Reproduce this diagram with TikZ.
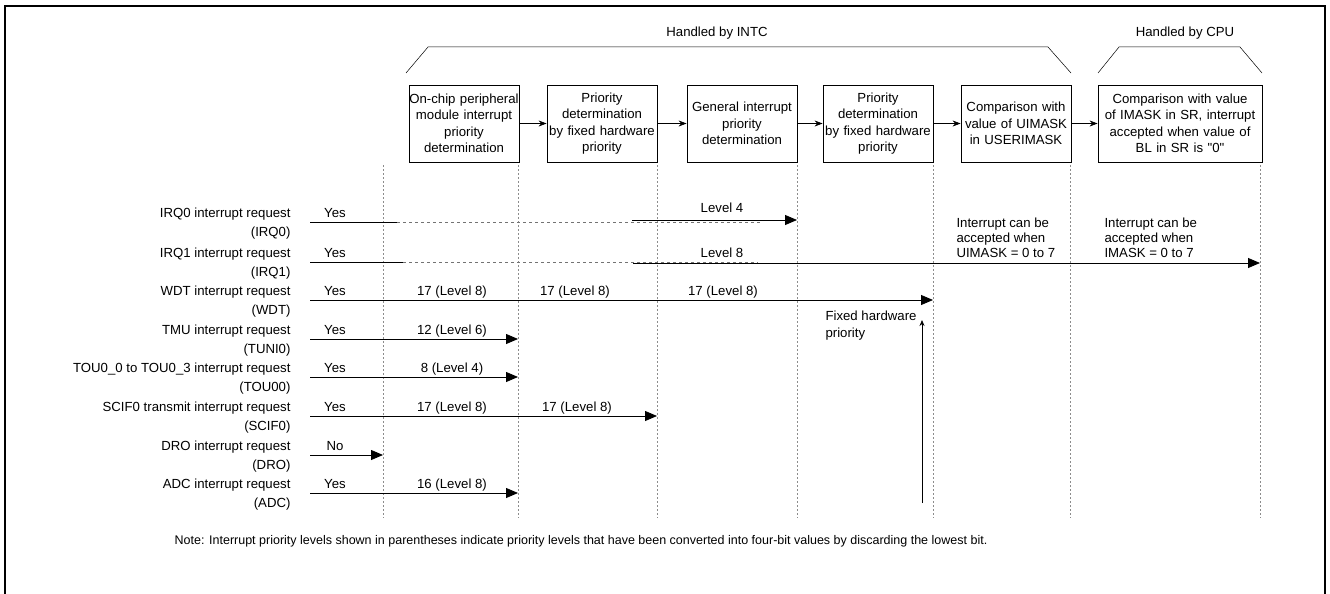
\documentclass[tikz,border=0pt]{standalone}
\usepackage{fontspec}
\setmainfont{Liberation Sans}[Ligatures=TeXOff]
\usetikzlibrary{arrows.meta}

\begin{document}
\begin{tikzpicture}[x=1pt,y=-1pt,
    font=\fontsize{13.2}{16.5}\selectfont, >={Triangle[length=12pt,width=10pt]},
    stage/.style={rectangle,draw=black,line width=0.8pt,minimum width=110pt,
                  minimum height=77pt,inner sep=0pt,align=center,text width=110pt},
    col/.style={black!45,line width=0.7pt,dash pattern=on 1.5pt off 2.5pt},
    req/.style={->,line width=0.8pt},
    link/.style={-{Stealth[length=8pt,width=6pt]},line width=0.8pt},
    gap/.style={black!55,line width=0.6pt,dash pattern=on 3pt off 3pt},
    src/.style={anchor=east,align=right,font=\fontsize{13.2}{19.5}\selectfont},
    lvl/.style={anchor=base},
    bracket/.style={line width=0.5pt}]

  \useasboundingbox (0,0) rectangle (1330,594);
  \draw[line width=2.8pt] (5,594) -- (5,6) -- (1325,6) -- (1325,594);

  % processing stages
  \node[stage] (chip) at (464,123.5) {On-chip peripheral\\module interrupt\\priority\\determination};
  \node[stage] (fix1) at (602,123.5) {Priority\\determination\\by fixed hardware\\priority};
  \node[stage] (gen)  at (742,123.5) {General interrupt\\priority\\determination};
  \node[stage] (fix2) at (878,123.5) {Priority\\determination\\by fixed hardware\\priority};
  \node[stage] (uim)  at (1016,123.5) {Comparison with\\value of UIMASK\\in USERIMASK};
  \node[stage,minimum width=164pt,text width=164pt] (imask) at (1180,123.5)
       {Comparison with value\\of IMASK in SR, interrupt\\accepted when value of\\BL in SR is "0"};

  \draw[link] (chip) -- (fix1);
  \draw[link] (fix1) -- (gen);
  \draw[link] (gen)  -- (fix2);
  \draw[link] (fix2) -- (uim);
  \draw[link] (uim)  -- (imask);

  % handled-by brackets
  \draw[bracket] (406,73) -- (428,47) -- (1048,47) -- (1071,73);
  \draw[bracket] (1098,73) -- (1119,47) -- (1240,47) -- (1262,73);
  \node (intc) at (717,33) {Handled by INTC};
  \node (cpu)  at (1185,33) {Handled by CPU};

  % stage boundaries
  \foreach \n/\x in {0/383,1/518,2/657,3/797,4/933,5/1070,6/1260}
    \draw[col] (\x,165) coordinate (top\n) -- (\x,518) coordinate (bot\n);

  % interrupt sources
  \foreach \n/\y/\ans/\txt in {0/222/Yes/{IRQ0 interrupt request\\(IRQ0)},
                               1/262/Yes/{IRQ1 interrupt request\\(IRQ1)},
                               2/300/Yes/{WDT interrupt request\\(WDT)},
                               3/339/Yes/{TMU interrupt request\\(TUNI0)},
                               4/377/Yes/{TOU0\_0 to TOU0\_3 interrupt request\\(TOU00)},
                               5/416/Yes/{SCIF0 transmit interrupt request\\(SCIF0)},
                               6/455/No/{DRO interrupt request\\(DRO)},
                               7/493/Yes/{ADC interrupt request\\(ADC)}}
  {
    \node[src] (lab\n) at (294,\y+1.5) {\txt};
    \coordinate (in\n) at (310,\y);
    \node[lvl] (ans\n) at (335,\y-4.5) {\ans};
  }

  % IRQ0 and IRQ1 skip the peripheral stages
  \coordinate (g0) at (397,222);
  \coordinate (g1) at (403,262);
  \draw[line width=0.8pt] (in0) -- (g0);
  \draw[gap] (g0) -- (760,222);
  \draw[line width=0.8pt] (in1) -- (g1);
  \draw[gap] (g1) -- (758,262);
  \coordinate (irq0) at (632,220);
  \coordinate (irq1) at (633,263);
  \draw[req] (irq0) -- (irq0 -| top3);
  \draw[req] (irq1) -- (irq1 -| top6);
  \node[lvl] (lv0) at (722,212) {Level 4};
  \node[lvl] (lv1) at (722,257) {Level 8};

  % on-chip peripheral requests
  \draw[req] (in2) -- (in2 -| top4);
  \draw[req] (in3) -- (in3 -| top1);
  \draw[req] (in4) -- (in4 -| top1);
  \draw[req] (in5) -- (in5 -| top2);
  \draw[req] (in6) -- (in6 -| top0);
  \draw[req] (in7) -- (in7 -| top1);

  \node[lvl] (w1) at (452,295.5) {17 (Level 8)};
  \node[lvl] (w2) at (575,295.5) {17 (Level 8)};
  \node[lvl] (w3) at (723,295.5) {17 (Level 8)};
  \node[lvl] (t1) at (452,334.5) {12 (Level 6)};
  \node[lvl] (u1) at (452,372.5) {8 (Level 4)};
  \node[lvl] (s1) at (452,411.5) {17 (Level 8)};
  \node[lvl] (s2) at (577,411.5) {17 (Level 8)};
  \node[lvl] (a1) at (452,488.5) {16 (Level 8)};

  % fixed hardware priority
  \coordinate (fhw) at (922,503);
  \coordinate (fhwtip) at (922,320);
  \draw[-{Stealth[length=6pt,width=5pt]},line width=0.8pt] (fhw) -- (fhwtip);
  \node[anchor=west,align=left,font=\fontsize{13.2}{17}\selectfont] (fhwtxt) at (822,325.5)
       {Fixed hardware\\priority};

  \node[anchor=west,align=left,font=\fontsize{13.2}{15}\selectfont] (acc1) at (953,238)
       {Interrupt can be\\accepted when\\UIMASK = 0 to 7};
  \node[anchor=west,align=left,font=\fontsize{13.2}{15}\selectfont] (acc2) at (1101,238)
       {Interrupt can be\\accepted when\\IMASK = 0 to 7};

  \node[font=\fontsize{12.5}{15}\selectfont] (note) at (581,541)
       {Note: Interrupt priority levels shown in parentheses indicate priority levels that have been converted into four-bit values by discarding the lowest bit.};
\end{tikzpicture}
\end{document}
